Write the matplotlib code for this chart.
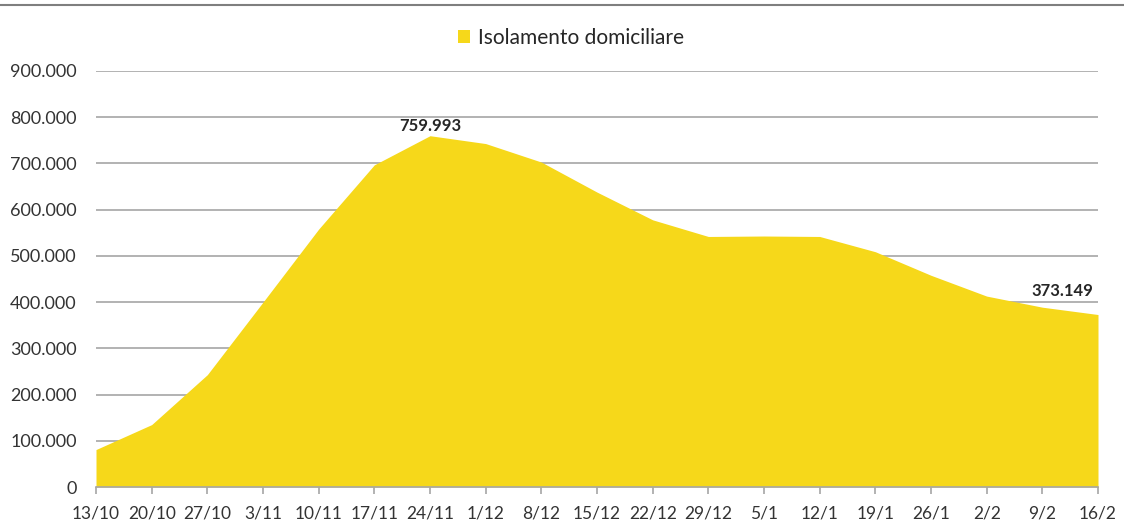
import matplotlib.pyplot as plt
from matplotlib.ticker import FuncFormatter, MultipleLocator
from matplotlib.patches import Patch
from matplotlib.lines import Line2D

# Data
weeks = ['13/10', '20/10', '27/10', '3/11', '10/11', '17/11', '24/11', '1/12', '8/12',
         '15/12', '22/12', '29/12', '5/1', '12/1', '19/1', '26/1', '2/2', '9/2', '16/2']
isolamento = [81000, 135000, 243000, 400000, 558000, 697000, 759993, 743000, 703000,
              638000, 578000, 542000, 543000, 542000, 509000, 458000, 413000, 389000, 373149]

yellow = '#F6D81A'
grid_col = '#A6A6A6'
txt_col = '#333333'

plt.rcParams['font.family'] = ['Lato', 'DejaVu Sans']

fig = plt.figure(figsize=(11.24, 5.27), dpi=100)
ax = fig.add_axes([96 / 1124, 1 - 487 / 527, (1098 - 96) / 1124, (487 - 71) / 527])

x = list(range(len(weeks)))
ax.fill_between(x, isolamento, 0, color=yellow, linewidth=0, zorder=3)

ax.set_xlim(0, len(weeks) - 1)
ax.set_ylim(0, 900000)
ax.yaxis.set_major_locator(MultipleLocator(100000))
ax.yaxis.set_major_formatter(FuncFormatter(lambda v, p: f'{int(v):,}'.replace(',', '.')))
ax.grid(axis='y', color=grid_col, linewidth=1.2, zorder=1)
ax.set_axisbelow(True)

ax.set_xticks(x)
ax.set_xticklabels(weeks)
for s in ['top', 'right', 'left']:
    ax.spines[s].set_visible(False)
ax.spines['bottom'].set_color(grid_col)
ax.spines['bottom'].set_linewidth(1.2)
ax.spines['bottom'].set_zorder(4)
ax.tick_params(axis='x', direction='out', length=5, color=grid_col, width=1.2,
               labelsize=12.5, labelcolor=txt_col, pad=8)
ax.tick_params(axis='y', length=0, labelsize=13, labelcolor=txt_col, pad=14)

# value labels
i_max = isolamento.index(max(isolamento))
ax.annotate(f'{isolamento[i_max]:,}'.replace(',', '.'), (i_max, isolamento[i_max]),
            xytext=(0, 1.5), textcoords='offset points', ha='center', va='bottom',
            fontsize=12, fontweight='bold', color='#262626', zorder=5)
ax.annotate(f'{isolamento[-1]:,}'.replace(',', '.'), (len(weeks) - 1, isolamento[-1]),
            xytext=(-3.6, 11), textcoords='offset points', ha='right', va='bottom',
            fontsize=12, fontweight='bold', color='#262626', zorder=5)

# legend
handle = Patch(facecolor=yellow, edgecolor='none')
fig.legend([handle], ['Isolamento domiciliare'], loc='center', bbox_to_anchor=(571 / 1124, 1 - 38 / 527),
           frameon=False, fontsize=15, handlelength=0.6, handleheight=0.6, handletextpad=0.4,
           labelcolor='#262626')

# top border line
fig.add_artist(Line2D([0, 1], [1 - 5 / 527, 1 - 5 / 527], color='#7F7F7F', linewidth=1.5))

fig.savefig('out.png', dpi=100, facecolor='white')
